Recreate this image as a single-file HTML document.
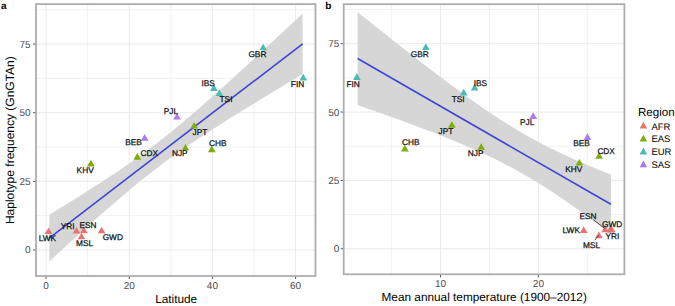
<!DOCTYPE html>
<html><head><meta charset="utf-8"><style>
html,body{margin:0;padding:0;background:#fff;}
svg{display:block;}
text{font-family:"Liberation Sans",sans-serif;text-rendering:geometricPrecision;}
.lab{font-size:8.3px;fill:#111;text-anchor:middle;stroke:#111;stroke-width:0.25px;}
.tk{font-size:10px;fill:#4d4d4d;}
.ti{font-size:11.8px;fill:#000;}
.lt{font-size:11.6px;fill:#000;}
.li{font-size:9.5px;fill:#000;}
.pl{font-size:10px;font-weight:bold;fill:#000;}
</style></head><body>
<svg width="675" height="306" viewBox="0 0 675 306">
<rect width="675" height="306" fill="#fff"/>
<line x1="87.60" y1="4.1" x2="87.60" y2="276.0" stroke="#eeeeee" stroke-width="0.8"/>
<line x1="170.80" y1="4.1" x2="170.80" y2="276.0" stroke="#eeeeee" stroke-width="0.8"/>
<line x1="254.00" y1="4.1" x2="254.00" y2="276.0" stroke="#eeeeee" stroke-width="0.8"/>
<line x1="36.0" y1="215.68" x2="315.5" y2="215.68" stroke="#eeeeee" stroke-width="0.8"/>
<line x1="36.0" y1="147.03" x2="315.5" y2="147.03" stroke="#eeeeee" stroke-width="0.8"/>
<line x1="36.0" y1="78.38" x2="315.5" y2="78.38" stroke="#eeeeee" stroke-width="0.8"/>
<line x1="36.0" y1="9.72" x2="315.5" y2="9.72" stroke="#eeeeee" stroke-width="0.8"/>
<line x1="46.00" y1="4.1" x2="46.00" y2="276.0" stroke="#e8e8e8" stroke-width="0.9"/>
<line x1="129.20" y1="4.1" x2="129.20" y2="276.0" stroke="#e8e8e8" stroke-width="0.9"/>
<line x1="212.40" y1="4.1" x2="212.40" y2="276.0" stroke="#e8e8e8" stroke-width="0.9"/>
<line x1="295.60" y1="4.1" x2="295.60" y2="276.0" stroke="#e8e8e8" stroke-width="0.9"/>
<line x1="36.0" y1="250.00" x2="315.5" y2="250.00" stroke="#e8e8e8" stroke-width="0.9"/>
<line x1="36.0" y1="181.35" x2="315.5" y2="181.35" stroke="#e8e8e8" stroke-width="0.9"/>
<line x1="36.0" y1="112.70" x2="315.5" y2="112.70" stroke="#e8e8e8" stroke-width="0.9"/>
<line x1="36.0" y1="44.05" x2="315.5" y2="44.05" stroke="#e8e8e8" stroke-width="0.9"/>
<polygon points="49.30,261.47 52.51,258.51 55.71,255.55 58.92,252.60 62.13,249.65 65.33,246.71 68.54,243.77 71.74,240.84 74.95,237.92 78.16,235.01 81.36,232.10 84.57,229.20 87.78,226.31 90.98,223.44 94.19,220.57 97.39,217.71 100.60,214.87 103.81,212.04 107.01,209.22 110.22,206.43 113.43,203.64 116.63,200.88 119.84,198.13 123.05,195.40 126.25,192.70 129.46,190.01 132.66,187.35 135.87,184.72 139.08,182.11 142.28,179.52 145.49,176.97 148.70,174.44 151.90,171.94 155.11,169.47 158.32,167.02 161.52,164.61 164.73,162.22 167.93,159.87 171.14,157.53 174.35,155.23 177.55,152.95 180.76,150.70 183.97,148.47 187.17,146.26 190.38,144.07 193.58,141.90 196.79,139.75 200.00,137.62 203.20,135.51 206.41,133.41 209.62,131.32 212.82,129.25 216.03,127.19 219.24,125.14 222.44,123.10 225.65,121.08 228.85,119.06 232.06,117.05 235.27,115.05 238.47,113.05 241.68,111.07 244.89,109.09 248.09,107.11 251.30,105.14 254.51,103.18 257.71,101.22 260.92,99.27 264.12,97.32 267.33,95.38 270.54,93.44 273.74,91.50 276.95,89.56 280.16,87.63 283.36,85.71 286.57,83.78 289.77,81.86 292.98,79.94 296.19,78.02 299.39,76.11 302.60,74.19 302.60,13.59 299.39,16.60 296.19,19.60 292.98,22.60 289.77,25.59 286.57,28.59 283.36,31.58 280.16,34.57 276.95,37.55 273.74,40.53 270.54,43.51 267.33,46.49 264.12,49.46 260.92,52.43 257.71,55.39 254.51,58.35 251.30,61.30 248.09,64.25 244.89,67.19 241.68,70.13 238.47,73.06 235.27,75.98 232.06,78.90 228.85,81.80 225.65,84.70 222.44,87.59 219.24,90.47 216.03,93.34 212.82,96.19 209.62,99.04 206.41,101.87 203.20,104.68 200.00,107.48 196.79,110.27 193.58,113.04 190.38,115.78 187.17,118.51 183.97,121.22 180.76,123.91 177.55,126.57 174.35,129.20 171.14,131.82 167.93,134.40 164.73,136.96 161.52,139.49 158.32,141.99 155.11,144.47 151.90,146.91 148.70,149.33 145.49,151.71 142.28,154.07 139.08,156.41 135.87,158.71 132.66,160.99 129.46,163.25 126.25,165.48 123.05,167.69 119.84,169.88 116.63,172.05 113.43,174.20 110.22,176.33 107.01,178.45 103.81,180.55 100.60,182.64 97.39,184.71 94.19,186.77 90.98,188.82 87.78,190.86 84.57,192.89 81.36,194.90 78.16,196.91 74.95,198.92 71.74,200.91 68.54,202.90 65.33,204.88 62.13,206.85 58.92,208.82 55.71,210.78 52.51,212.74 49.30,214.70" fill="#d6d6d6"/>
<line x1="49.30" y1="238.08" x2="302.60" y2="43.89" stroke="#3d45d8" stroke-width="1.6"/>
<polygon points="48.60,227.48 52.45,234.08 44.75,234.08" fill="#E8746F"/>
<polygon points="76.50,226.93 80.35,233.53 72.65,233.53" fill="#E8746F"/>
<polygon points="83.90,226.71 87.75,233.31 80.05,233.31" fill="#E8746F"/>
<polygon points="81.40,232.72 85.25,239.32 77.55,239.32" fill="#E8746F"/>
<polygon points="101.60,226.65 105.45,233.25 97.75,233.25" fill="#E8746F"/>
<polygon points="90.90,159.82 94.75,166.42 87.05,166.42" fill="#7DAE0E"/>
<polygon points="137.30,153.03 141.15,159.63 133.45,159.63" fill="#7DAE0E"/>
<polygon points="185.50,143.97 189.35,150.57 181.65,150.57" fill="#7DAE0E"/>
<polygon points="194.20,121.95 198.05,128.55 190.35,128.55" fill="#7DAE0E"/>
<polygon points="211.80,145.59 215.65,152.19 207.95,152.19" fill="#7DAE0E"/>
<polygon points="213.90,84.33 217.75,90.93 210.05,90.93" fill="#4DBBB3"/>
<polygon points="219.40,89.41 223.25,96.01 215.55,96.01" fill="#4DBBB3"/>
<polygon points="263.20,43.69 267.05,50.29 259.35,50.29" fill="#4DBBB3"/>
<polygon points="303.30,73.84 307.15,80.44 299.45,80.44" fill="#4DBBB3"/>
<polygon points="144.70,134.11 148.55,140.71 140.85,140.71" fill="#AC7AF4"/>
<polygon points="177.00,112.97 180.85,119.57 173.15,119.57" fill="#AC7AF4"/>
<text x="47.4" y="241.40" class="lab">LWK</text>
<text x="67.55" y="228.60" class="lab">YRI</text>
<text x="87.95" y="227.60" class="lab">ESN</text>
<text x="84.55" y="246.10" class="lab">MSL</text>
<text x="112.8" y="239.80" class="lab">GWD</text>
<text x="85.15" y="172.80" class="lab">KHV</text>
<text x="149.25" y="156.10" class="lab">CDX</text>
<text x="179.75" y="156.30" class="lab">NJP</text>
<text x="200" y="134.50" class="lab">JPT</text>
<text x="217.85" y="146.20" class="lab">CHB</text>
<text x="208.2" y="86.00" class="lab">IBS</text>
<text x="226" y="102.20" class="lab">TSI</text>
<text x="257.4" y="56.80" class="lab">GBR</text>
<text x="297.5" y="87.10" class="lab">FIN</text>
<text x="133.55" y="145.30" class="lab">BEB</text>
<text x="170.95" y="114.20" class="lab">PJL</text>
<rect x="36.0" y="4.1" width="279.50" height="271.90" fill="none" stroke="#adadad" stroke-width="1.8"/>
<line x1="46.00" y1="276.8" x2="46.00" y2="279.0" stroke="#444" stroke-width="0.9"/>
<text x="46.00" y="288.8" class="tk" text-anchor="middle">0</text>
<line x1="129.20" y1="276.8" x2="129.20" y2="279.0" stroke="#444" stroke-width="0.9"/>
<text x="129.20" y="288.8" class="tk" text-anchor="middle">20</text>
<line x1="212.40" y1="276.8" x2="212.40" y2="279.0" stroke="#444" stroke-width="0.9"/>
<text x="212.40" y="288.8" class="tk" text-anchor="middle">40</text>
<line x1="295.60" y1="276.8" x2="295.60" y2="279.0" stroke="#444" stroke-width="0.9"/>
<text x="295.60" y="288.8" class="tk" text-anchor="middle">60</text>
<line x1="33.0" y1="250.00" x2="35.2" y2="250.00" stroke="#444" stroke-width="0.9"/>
<text x="30.6" y="253.45" class="tk" text-anchor="end">0</text>
<line x1="33.0" y1="181.35" x2="35.2" y2="181.35" stroke="#444" stroke-width="0.9"/>
<text x="30.6" y="184.80" class="tk" text-anchor="end">25</text>
<line x1="33.0" y1="112.70" x2="35.2" y2="112.70" stroke="#444" stroke-width="0.9"/>
<text x="30.6" y="116.15" class="tk" text-anchor="end">50</text>
<line x1="33.0" y1="44.05" x2="35.2" y2="44.05" stroke="#444" stroke-width="0.9"/>
<text x="30.6" y="47.50" class="tk" text-anchor="end">75</text>
<line x1="391.62" y1="4.2" x2="391.62" y2="274.3" stroke="#eeeeee" stroke-width="0.8"/>
<line x1="489.48" y1="4.2" x2="489.48" y2="274.3" stroke="#eeeeee" stroke-width="0.8"/>
<line x1="587.33" y1="4.2" x2="587.33" y2="274.3" stroke="#eeeeee" stroke-width="0.8"/>
<line x1="343.7" y1="214.61" x2="624.4" y2="214.61" stroke="#eeeeee" stroke-width="0.8"/>
<line x1="343.7" y1="146.24" x2="624.4" y2="146.24" stroke="#eeeeee" stroke-width="0.8"/>
<line x1="343.7" y1="77.86" x2="624.4" y2="77.86" stroke="#eeeeee" stroke-width="0.8"/>
<line x1="343.7" y1="9.49" x2="624.4" y2="9.49" stroke="#eeeeee" stroke-width="0.8"/>
<line x1="440.55" y1="4.2" x2="440.55" y2="274.3" stroke="#e8e8e8" stroke-width="0.9"/>
<line x1="538.40" y1="4.2" x2="538.40" y2="274.3" stroke="#e8e8e8" stroke-width="0.9"/>
<line x1="343.7" y1="248.80" x2="624.4" y2="248.80" stroke="#e8e8e8" stroke-width="0.9"/>
<line x1="343.7" y1="180.43" x2="624.4" y2="180.43" stroke="#e8e8e8" stroke-width="0.9"/>
<line x1="343.7" y1="112.05" x2="624.4" y2="112.05" stroke="#e8e8e8" stroke-width="0.9"/>
<line x1="343.7" y1="43.68" x2="624.4" y2="43.68" stroke="#e8e8e8" stroke-width="0.9"/>
<polygon points="357.60,105.00 360.81,106.13 364.01,107.25 367.22,108.38 370.43,109.51 373.63,110.64 376.84,111.78 380.04,112.92 383.25,114.06 386.46,115.21 389.66,116.36 392.87,117.52 396.08,118.68 399.28,119.85 402.49,121.02 405.69,122.19 408.90,123.38 412.11,124.57 415.31,125.76 418.52,126.96 421.73,128.17 424.93,129.39 428.14,130.61 431.35,131.84 434.55,133.09 437.76,134.34 440.96,135.60 444.17,136.87 447.38,138.16 450.58,139.45 453.79,140.76 457.00,142.08 460.20,143.42 463.41,144.77 466.62,146.14 469.82,147.53 473.03,148.93 476.23,150.36 479.44,151.80 482.65,153.27 485.85,154.76 489.06,156.27 492.27,157.80 495.47,159.37 498.68,160.96 501.88,162.57 505.09,164.22 508.30,165.89 511.50,167.60 514.71,169.33 517.92,171.10 521.12,172.90 524.33,174.73 527.54,176.59 530.74,178.49 533.95,180.41 537.15,182.37 540.36,184.36 543.57,186.37 546.77,188.42 549.98,190.50 553.19,192.60 556.39,194.73 559.60,196.89 562.81,199.07 566.01,201.27 569.22,203.50 572.42,205.74 575.63,208.01 578.84,210.30 582.04,212.60 585.25,214.93 588.46,217.26 591.66,219.62 594.87,221.98 598.07,224.37 601.28,226.76 604.49,229.17 607.69,231.58 610.90,234.01 610.90,174.50 607.69,173.24 604.49,171.96 601.28,170.68 598.07,169.39 594.87,168.08 591.66,166.76 588.46,165.43 585.25,164.07 582.04,162.71 578.84,161.32 575.63,159.92 572.42,158.50 569.22,157.06 566.01,155.60 562.81,154.11 559.60,152.60 556.39,151.07 553.19,149.51 549.98,147.93 546.77,146.31 543.57,144.67 540.36,143.00 537.15,141.30 533.95,139.57 530.74,137.81 527.54,136.01 524.33,134.19 521.12,132.33 517.92,130.44 514.71,128.52 511.50,126.57 508.30,124.58 505.09,122.57 501.88,120.53 498.68,118.45 495.47,116.35 492.27,114.23 489.06,112.08 485.85,109.90 482.65,107.70 479.44,105.48 476.23,103.23 473.03,100.97 469.82,98.68 466.62,96.38 463.41,94.06 460.20,91.73 457.00,89.37 453.79,87.01 450.58,84.63 447.38,82.24 444.17,79.83 440.96,77.42 437.76,74.99 434.55,72.55 431.35,70.11 428.14,67.65 424.93,65.19 421.73,62.71 418.52,60.23 415.31,57.75 412.11,55.25 408.90,52.75 405.69,50.25 402.49,47.73 399.28,45.22 396.08,42.69 392.87,40.17 389.66,37.64 386.46,35.10 383.25,32.56 380.04,30.01 376.84,27.47 373.63,24.91 370.43,22.36 367.22,19.80 364.01,17.24 360.81,14.68 357.60,12.11" fill="#d6d6d6"/>
<line x1="357.60" y1="58.56" x2="610.90" y2="204.25" stroke="#3d45d8" stroke-width="1.6"/>
<polygon points="356.90,73.33 360.75,79.93 353.05,79.93" fill="#4DBBB3"/>
<polygon points="425.80,43.30 429.65,49.90 421.95,49.90" fill="#4DBBB3"/>
<polygon points="463.70,88.84 467.55,95.44 459.85,95.44" fill="#4DBBB3"/>
<polygon points="474.60,83.78 478.45,90.38 470.75,90.38" fill="#4DBBB3"/>
<polygon points="451.90,121.25 455.75,127.85 448.05,127.85" fill="#7DAE0E"/>
<polygon points="404.80,144.80 408.65,151.40 400.95,151.40" fill="#7DAE0E"/>
<polygon points="481.20,143.18 485.05,149.78 477.35,149.78" fill="#7DAE0E"/>
<polygon points="533.20,112.31 537.05,118.91 529.35,118.91" fill="#AC7AF4"/>
<polygon points="587.40,133.37 591.25,139.97 583.55,139.97" fill="#AC7AF4"/>
<polygon points="599.10,152.21 602.95,158.81 595.25,158.81" fill="#7DAE0E"/>
<polygon points="579.40,158.96 583.25,165.56 575.55,165.56" fill="#7DAE0E"/>
<polygon points="583.70,226.35 587.55,232.96 579.85,232.96" fill="#E8746F"/>
<polygon points="598.90,231.58 602.75,238.18 595.05,238.18" fill="#E8746F"/>
<polygon points="605.20,225.59 609.05,232.19 601.35,232.19" fill="#E8746F"/>
<polygon points="610.40,225.81 614.25,232.41 606.55,232.41" fill="#E8746F"/>
<polygon points="611.60,225.53 615.45,232.13 607.75,232.13" fill="#E8746F"/>
<line x1="593.3" y1="219.7" x2="604.6" y2="228.3" stroke="#111" stroke-width="0.7"/>
<line x1="594.8" y1="240.2" x2="598.6" y2="235.4" stroke="#111" stroke-width="0.7"/>
<text x="353.15" y="86.80" class="lab">FIN</text>
<text x="419.7" y="56.70" class="lab">GBR</text>
<text x="458.2" y="101.70" class="lab">TSI</text>
<text x="480.4" y="85.50" class="lab">IBS</text>
<text x="446" y="134.10" class="lab">JPT</text>
<text x="410.7" y="145.00" class="lab">CHB</text>
<text x="475.7" y="156.00" class="lab">NJP</text>
<text x="527.2" y="125.00" class="lab">PJL</text>
<text x="581.6" y="146.20" class="lab">BEB</text>
<text x="606.15" y="153.50" class="lab">CDX</text>
<text x="573.85" y="172.10" class="lab">KHV</text>
<text x="571.25" y="233.30" class="lab">LWK</text>
<text x="591.55" y="247.60" class="lab">MSL</text>
<text x="588.05" y="219.10" class="lab">ESN</text>
<text x="612.3" y="238.70" class="lab">YRI</text>
<text x="612.1" y="227.00" class="lab">GWD</text>
<rect x="343.7" y="4.2" width="280.70" height="270.10" fill="none" stroke="#adadad" stroke-width="1.8"/>
<line x1="440.55" y1="275.1" x2="440.55" y2="277.3" stroke="#444" stroke-width="0.9"/>
<text x="440.55" y="286.9" class="tk" text-anchor="middle">10</text>
<line x1="538.40" y1="275.1" x2="538.40" y2="277.3" stroke="#444" stroke-width="0.9"/>
<text x="538.40" y="286.9" class="tk" text-anchor="middle">20</text>
<line x1="340.7" y1="248.80" x2="342.9" y2="248.80" stroke="#444" stroke-width="0.9"/>
<text x="339.3" y="252.25" class="tk" text-anchor="end">0</text>
<line x1="340.7" y1="180.43" x2="342.9" y2="180.43" stroke="#444" stroke-width="0.9"/>
<text x="339.3" y="183.88" class="tk" text-anchor="end">25</text>
<line x1="340.7" y1="112.05" x2="342.9" y2="112.05" stroke="#444" stroke-width="0.9"/>
<text x="339.3" y="115.50" class="tk" text-anchor="end">50</text>
<line x1="340.7" y1="43.68" x2="342.9" y2="43.68" stroke="#444" stroke-width="0.9"/>
<text x="339.3" y="47.13" class="tk" text-anchor="end">75</text>
<text x="176.2" y="302.7" class="ti" text-anchor="middle">Latitude</text>
<text x="484.2" y="300.7" class="ti" text-anchor="middle">Mean annual temperature (1900&#8211;2012)</text>
<text transform="translate(13.5,140.15) rotate(-90)" class="ti" style="font-size:12px" text-anchor="middle">Haplotype frequency (GnGTAn)</text>
<text x="0.9" y="9.0" class="pl">a</text>
<text x="325.3" y="8.7" class="pl">b</text>
<text x="638" y="116" class="lt">Region</text>
<polygon points="643.40,121.80 647.20,128.60 639.60,128.60" fill="#E8746F"/>
<text x="651.4" y="129.50" class="li">AFR</text>
<polygon points="643.40,134.70 647.20,141.50 639.60,141.50" fill="#7DAE0E"/>
<text x="651.4" y="142.40" class="li">EAS</text>
<polygon points="643.40,147.60 647.20,154.40 639.60,154.40" fill="#4DBBB3"/>
<text x="651.4" y="155.30" class="li">EUR</text>
<polygon points="643.40,160.50 647.20,167.30 639.60,167.30" fill="#AC7AF4"/>
<text x="651.4" y="168.20" class="li">SAS</text>
</svg>
</body></html>
